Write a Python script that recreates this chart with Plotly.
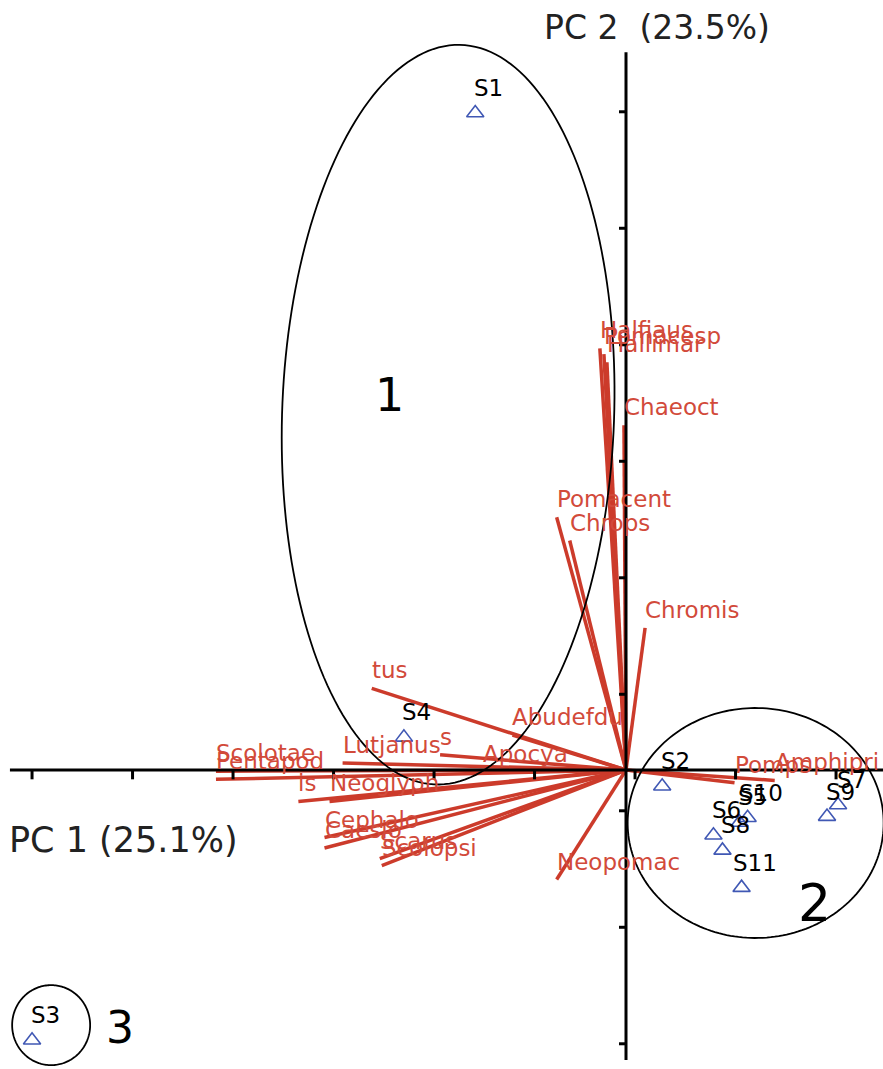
import numpy as np
import plotly.graph_objects as go

# ---- data (PCA scores / loadings) ----
sample_names = ["S1", "S2", "S3", "S4", "S5", "S6", "S7", "S8", "S9", "S10", "S11"]
pc1_scores = [-1.50, 0.36, -5.91, -2.21, 1.13, 0.87, 2.11, 0.96, 2.00, 1.21, 1.15]
pc2_scores = [5.64, -0.14, -2.32, 0.28, -0.45, -0.56, -0.30, -0.69, -0.40, -0.41, -1.01]

species = ["Halfiaus", "Pomacesp", "Hallimar", "Chaeoct", "Pomacent", "Chrops",
           "Chromis", "Abudefdu", "tus", "s", "Lutjanus", "Apocya", "Scolotae",
           "Pentapod", "is", "Neoglyph", "Cephalo", "Caesio", "Scarus", "Scolopsi",
           "Neopomac", "Pomps", "Amphipri"]
load_pc1 = [-0.26, -0.22, -0.19, -0.02, -0.69, -0.56, 0.19, -1.13, -2.53, -1.85, -2.82,
            -1.42, -4.08, -4.08, -3.26, -2.95, -3.00, -3.00, -2.45, -2.43, -0.69, 1.08, 1.48]
load_pc2 = [3.62, 3.57, 3.50, 2.96, 2.17, 1.97, 1.22, 0.30, 0.70, 0.13, 0.06,
            -0.02, -0.01, -0.08, -0.27, -0.27, -0.58, -0.67, -0.76, -0.82, -0.94, -0.11, -0.09]

xtick_vals = [-5.91, -4.91, -3.91, -2.91, -1.91, -0.91, 0.09, 1.09, 2.09]
ytick_vals = [5.65, 4.65, 3.65, 2.65, 1.65, 0.65, -0.35, -1.35, -2.35]

group_labels = ["1", "2", "3"]

# ---- layout constants ----
W, H = 883, 1069
SX, SY = 100.5, 116.5           # pixels per data unit
XR = [-626 / SX, (W - 626) / SX]
YR = [(770 - H) / SY, 770 / SY]

RED = "#cc3b2b"
RED_TXT = "#d24a3a"
BLUE = "#4058b4"

fig = go.Figure()

# species vectors
vx, vy = [], []
for a, b in zip(load_pc1, load_pc2):
    vx += [0, a, None]
    vy += [0, b, None]
fig.add_trace(go.Scatter(x=vx, y=vy, mode="lines",
                         line=dict(color=RED, width=3.5), hoverinfo="skip",
                         showlegend=False))

# axes
fig.add_shape(type="line", x0=-6.13, x1=XR[1], y0=0, y1=0,
              line=dict(color="black", width=3))
fig.add_shape(type="line", x0=0, x1=0, y0=-2.49, y1=6.16,
              line=dict(color="black", width=3))
for t in xtick_vals:
    fig.add_shape(type="line", x0=t, x1=t, y0=0, y1=-0.08,
                  line=dict(color="black", width=3))
for t in ytick_vals:
    fig.add_shape(type="line", x0=0, x1=-0.07, y0=t, y1=t,
                  line=dict(color="black", width=3))


# group ellipses (rx, ry, angle in pixel space)
def ellipse_path(cx, cy, rx, ry, ang):
    t = np.linspace(0, 2 * np.pi, 200)
    a = np.deg2rad(ang)
    px = rx * np.cos(t)
    py = ry * np.sin(t)
    qx = px * np.cos(a) + py * np.sin(a)
    qy = -px * np.sin(a) + py * np.cos(a)
    xs = cx + qx / SX
    ys = cy + qy / SY
    d = "M " + " L ".join(f"{x:.4f},{y:.4f}" for x, y in zip(xs, ys)) + " Z"
    return d


for (cx, cy, rx, ry, ang) in [(-1.77, 3.05, 166, 370, 2),
                              (1.29, -0.455, 128, 115, 0),
                              (-5.72, -2.19, 39, 40, 0)]:
    fig.add_shape(type="path", path=ellipse_path(cx, cy, rx, ry, ang),
                  line=dict(color="black", width=1.8))

# samples
fig.add_trace(go.Scatter(x=pc1_scores, y=pc2_scores, mode="markers",
                         marker=dict(symbol="triangle-up-open", size=15,
                                     color=BLUE, line=dict(width=1.6, color=BLUE)),
                         hoverinfo="skip", showlegend=False))

annotations = []
for n, x, y in zip(sample_names, pc1_scores, pc2_scores):
    annotations.append(dict(x=x, y=y, text=n, showarrow=False, xshift=13, yshift=25,
                            font=dict(family="DejaVu Sans", size=23, color="black")))

for n, x, y in zip(species, load_pc1, load_pc2):
    annotations.append(dict(x=x, y=y, text=n, showarrow=False, xanchor="left",
                            yanchor="bottom", xshift=-2, yshift=3,
                            font=dict(family="DejaVu Sans", size=23, color=RED_TXT)))

# group numbers
for g, (x, y, s) in zip(group_labels, [(-2.35, 3.22, 46), (1.88, -1.14, 52), (-5.03, -2.21, 44)]):
    annotations.append(dict(x=x, y=y, text=g, showarrow=False,
                            font=dict(family="DejaVu Sans", size=s, color="black")))

# axis titles
annotations.append(dict(x=0.31, y=6.37, text="PC 2  (23.5%)", showarrow=False,
                        font=dict(family="DejaVu Sans", size=33, color="#222222")))
annotations.append(dict(x=-6.16, y=-0.60, text="PC 1 (25.1%)", showarrow=False,
                        xanchor="left",
                        font=dict(family="DejaVu Sans", size=35, color="#222222")))

fig.update_layout(
    width=W, height=H,
    margin=dict(l=0, r=0, t=0, b=0),
    paper_bgcolor="white", plot_bgcolor="white",
    xaxis=dict(range=XR, visible=False, fixedrange=True),
    yaxis=dict(range=YR, visible=False, fixedrange=True),
    annotations=annotations,
    showlegend=False,
)

fig.write_html("out.html", config={"displayModeBar": False},
               post_script="document.body.style.margin='0px';")
